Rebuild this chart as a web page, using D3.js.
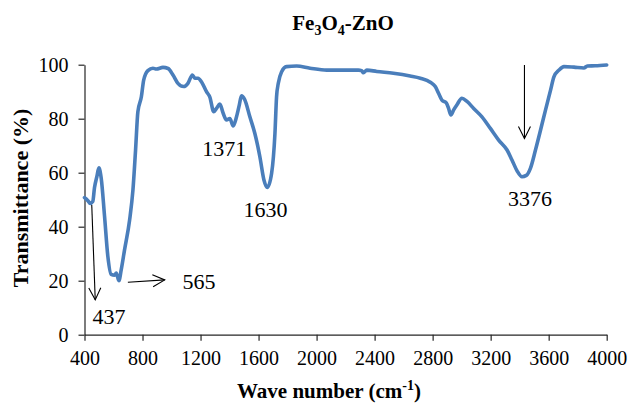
<!DOCTYPE html>
<html>
<head>
<meta charset="utf-8">
<script src="https://cdn.jsdelivr.net/npm/d3@7"></script>
<style>
  html, body { margin: 0; padding: 0; background: #fff; }
  svg { display: block; }
  text { font-family: "Liberation Serif", "Times New Roman", serif; fill: #000; }
</style>
</head>
<body>
<svg id="chart" width="630" height="403"></svg>
<script>
// ---- data ----
const wavenumbers = [400, 411, 425, 439, 457, 469, 485, 499, 515, 538, 561, 584, 607, 619, 637, 653, 676, 711, 734, 752, 768, 792, 808, 837, 872, 895, 941, 976, 1010, 1044, 1084, 1113, 1144, 1160, 1183, 1206, 1241, 1264, 1291, 1310, 1333, 1356, 1379, 1402, 1425, 1448, 1467, 1482, 1505, 1540, 1574, 1609, 1637, 1660, 1690, 1713, 1724, 1736, 1759, 1793, 1862, 1955, 2070, 2185, 2288, 2310, 2323, 2346, 2415, 2530, 2645, 2715, 2784, 2818, 2841, 2864, 2894, 2910, 2926, 2945, 2968, 3002, 3037, 3083, 3140, 3198, 3255, 3313, 3347, 3382, 3416, 3446, 3474, 3509, 3544, 3578, 3613, 3636, 3671, 3705, 3774, 3843, 3866, 3920, 4000];
const transmittance = [50.8, 50.3, 49.5, 48.6, 49.3, 54.5, 58.5, 61.8, 58, 44, 29, 22.3, 22, 22.8, 20, 24, 31.4, 42.5, 53.6, 68.4, 82.6, 88.1, 94.3, 97.8, 98.7, 98.4, 99, 98.6, 96.2, 93.1, 91.9, 93.1, 96.2, 95, 95, 93.7, 90, 88, 82.6, 83.8, 85.4, 82, 79.5, 80.1, 77.3, 80.7, 85, 88.5, 87, 80.7, 74.6, 65.9, 57.3, 54.5, 59.8, 74.6, 88.1, 93.1, 97.4, 99.3, 99.5, 98.7, 98, 98, 98, 97.8, 97, 98, 97.5, 96.8, 95.8, 95, 93.5, 91.9, 89.4, 86.9, 85.9, 83.8, 81.4, 83.3, 85.2, 87.6, 86.4, 83.8, 80.7, 76.4, 72.1, 68.4, 64.7, 60.7, 58.5, 59, 61.6, 68.4, 75.8, 83.2, 90.6, 95.5, 98, 99.3, 99.1, 98.8, 99.5, 99.6, 99.9];
const xTicks = [400, 800, 1200, 1600, 2000, 2400, 2800, 3200, 3600, 4000];
const yTicks = [0, 20, 40, 60, 80, 100];
// peak labels: text, x (cm-1), y (%)
const peakLabels = ["437", "565", "1371", "1630", "3376"];
const peakLabelX = [569, 1190, 1363, 1647, 3472];
const peakLabelY = [4.0, 16.8, 66.2, 43.7, 47.7];
// arrows: from (x1,y1) to (x2,y2) in data units
const arrowX1 = [450, 699, 3433];
const arrowY1 = [48, 19.4, 99.9];
const arrowX2 = [474, 953, 3433];
const arrowY2 = [12.9, 20.3, 72.7];

// ---- layout ----
const svg = d3.select("#chart");
const mLeft = 84.5, mRight = 606.7, mTop = 64.7, mBottom = 334.7;
const x = d3.scaleLinear().domain([400, 4000]).range([mLeft, mRight]);
const y = d3.scaleLinear().domain([0, 100]).range([mBottom, mTop]);

// arrow marker
svg.append("defs").append("marker")
  .attr("id", "arr").attr("markerUnits", "userSpaceOnUse")
  .attr("markerWidth", 16).attr("markerHeight", 16)
  .attr("viewBox", "-14 -8 16 16").attr("refX", 0).attr("refY", 0)
  .attr("orient", "auto")
  .append("path").attr("d", "M-12,-6 L0,0 L-12,6")
  .attr("fill", "none").attr("stroke", "#000").attr("stroke-width", 1.1);

// axes
const axisColor = "#262626";
const gx = svg.append("g").attr("transform", `translate(0,${mBottom})`)
  .call(d3.axisBottom(x).tickValues(xTicks).tickSize(6).tickSizeOuter(0).tickPadding(10).tickFormat(d3.format("d")));
const gy = svg.append("g").attr("transform", `translate(${mLeft},0)`)
  .call(d3.axisLeft(y).tickValues(yTicks).tickSize(6).tickSizeOuter(0).tickPadding(10));
[gx, gy].forEach(g => {
  g.select(".domain").attr("stroke", axisColor).attr("stroke-width", 1.2);
  g.selectAll(".tick line").attr("stroke", axisColor).attr("stroke-width", 1.2);
  g.selectAll(".tick text").attr("font-family", '"Liberation Serif", "Times New Roman", serif')
    .attr("font-size", 20).attr("fill", "#000");
});
gy.selectAll(".tick text").attr("dy", "0.34em");

// line
const pts = wavenumbers.map((w, i) => [w, transmittance[i]]);
svg.append("path").datum(pts)
  .attr("fill", "none").attr("stroke", "#4A7EBB").attr("stroke-width", 3.6)
  .attr("stroke-linejoin", "round").attr("stroke-linecap", "round")
  .attr("d", d3.line().x(d => x(d[0])).y(d => y(d[1])).curve(d3.curveMonotoneX));

// arrows
svg.selectAll("line.arrow").data(arrowX1.map((v, i) => i)).enter().append("line")
  .attr("class", "arrow")
  .attr("x1", i => x(arrowX1[i])).attr("y1", i => y(arrowY1[i]))
  .attr("x2", i => x(arrowX2[i])).attr("y2", i => y(arrowY2[i]))
  .attr("stroke", "#000").attr("stroke-width", 1.1).attr("marker-end", "url(#arr)");

// peak labels
svg.selectAll("text.peak").data(peakLabels).enter().append("text")
  .attr("class", "peak")
  .attr("x", (d, i) => x(peakLabelX[i])).attr("y", (d, i) => y(peakLabelY[i]))
  .attr("text-anchor", "middle").attr("font-size", 22).text(d => d);

// title
const title = svg.append("text").attr("x", 343).attr("y", 29.5)
  .attr("text-anchor", "middle").attr("font-size", 21).attr("font-weight", "bold");
title.append("tspan").text("Fe");
title.append("tspan").attr("font-size", 14).attr("dy", 5).text("3");
title.append("tspan").attr("dy", -5).text("O");
title.append("tspan").attr("font-size", 14).attr("dy", 5).text("4");
title.append("tspan").attr("dy", -5).text("-ZnO");

// x label
const xl = svg.append("text").attr("x", 329).attr("y", 398)
  .attr("text-anchor", "middle").attr("font-size", 21).attr("font-weight", "bold");
xl.append("tspan").text("Wave number (cm");
xl.append("tspan").attr("font-size", 14).attr("dy", -8).text("-1");
xl.append("tspan").attr("dy", 8).text(")");

// y label
svg.append("text").attr("transform", "translate(28,198) rotate(-90)")
  .attr("text-anchor", "middle").attr("font-size", 22).attr("font-weight", "bold")
  .text("Transmittance (%)");
</script>
</body>
</html>
